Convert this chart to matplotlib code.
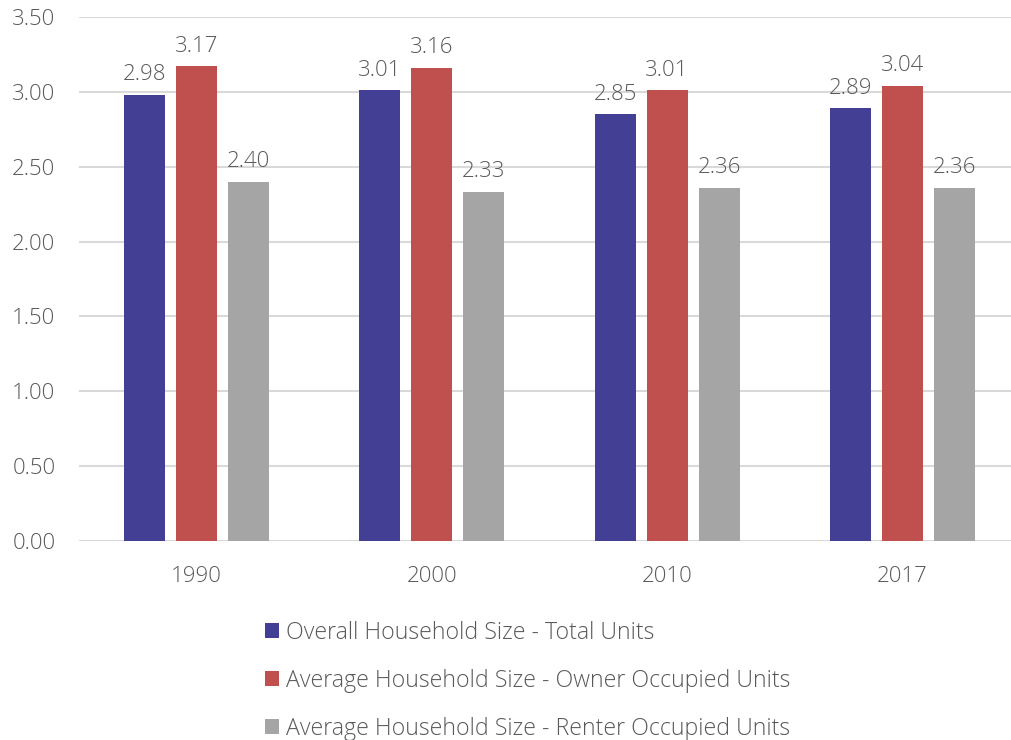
import numpy as np
import matplotlib.pyplot as plt
from matplotlib.patches import Patch

plt.rcParams['font.family'] = ['Open Sans', 'DejaVu Sans']
plt.rcParams['font.weight'] = 'light'

years = ["1990", "2000", "2010", "2017"]
total_units = [2.98, 3.01, 2.85, 2.89]
owner_units = [3.17, 3.16, 3.01, 3.04]
renter_units = [2.40, 2.33, 2.36, 2.36]
series_names = ["Overall Household Size - Total Units",
                "Average Household Size - Owner Occupied Units",
                "Average Household Size - Renter Occupied Units"]
colors = ["#423F94", "#C0504D", "#A5A5A5"]
txt = "#595959"
fs = 16

fig = plt.figure(figsize=(10.12, 7.4), dpi=100)
ax = fig.add_axes([79 / 1012, 1 - 541 / 740, (1020 - 79) / 1012, (541 - 17) / 740])

x = np.arange(len(years))
w = 0.174
pitch = 0.221
for i, vals in enumerate([total_units, owner_units, renter_units]):
    pos = x + (i - 1) * pitch
    ax.bar(pos, vals, width=w, color=colors[i], zorder=3)
    for p, v in zip(pos, vals):
        ax.annotate("%.2f" % v, (p, v), xytext=(0, 7), textcoords="offset points",
                    ha="center", va="bottom", fontsize=fs, color=txt)

ax.set_xlim(-0.5, len(years) - 0.5)
ax.set_ylim(0, 3.5)
ax.set_yticks(np.arange(0, 3.51, 0.5))
ax.set_yticklabels(["%.2f" % t for t in np.arange(0, 3.51, 0.5)])
ax.set_xticks(x)
ax.set_xticklabels(years)
ax.tick_params(length=0, labelsize=fs, colors=txt)
ax.tick_params(axis="y", pad=17)
ax.tick_params(axis="x", pad=18)
ax.grid(axis="y", color="#D9D9D9", linewidth=1.5, zorder=0)
for s in ax.spines.values():
    s.set_visible(False)

handles = [Patch(facecolor=c) for c in colors]
fig.legend(handles, series_names, loc="upper left", bbox_to_anchor=(244 / 1012, 1 - 600 / 740),
           frameon=False, fontsize=16.7, labelcolor=txt, handlelength=0.6, handleheight=0.6,
           handletextpad=0.3, labelspacing=1.03)

fig.savefig("out.png", dpi=100)
